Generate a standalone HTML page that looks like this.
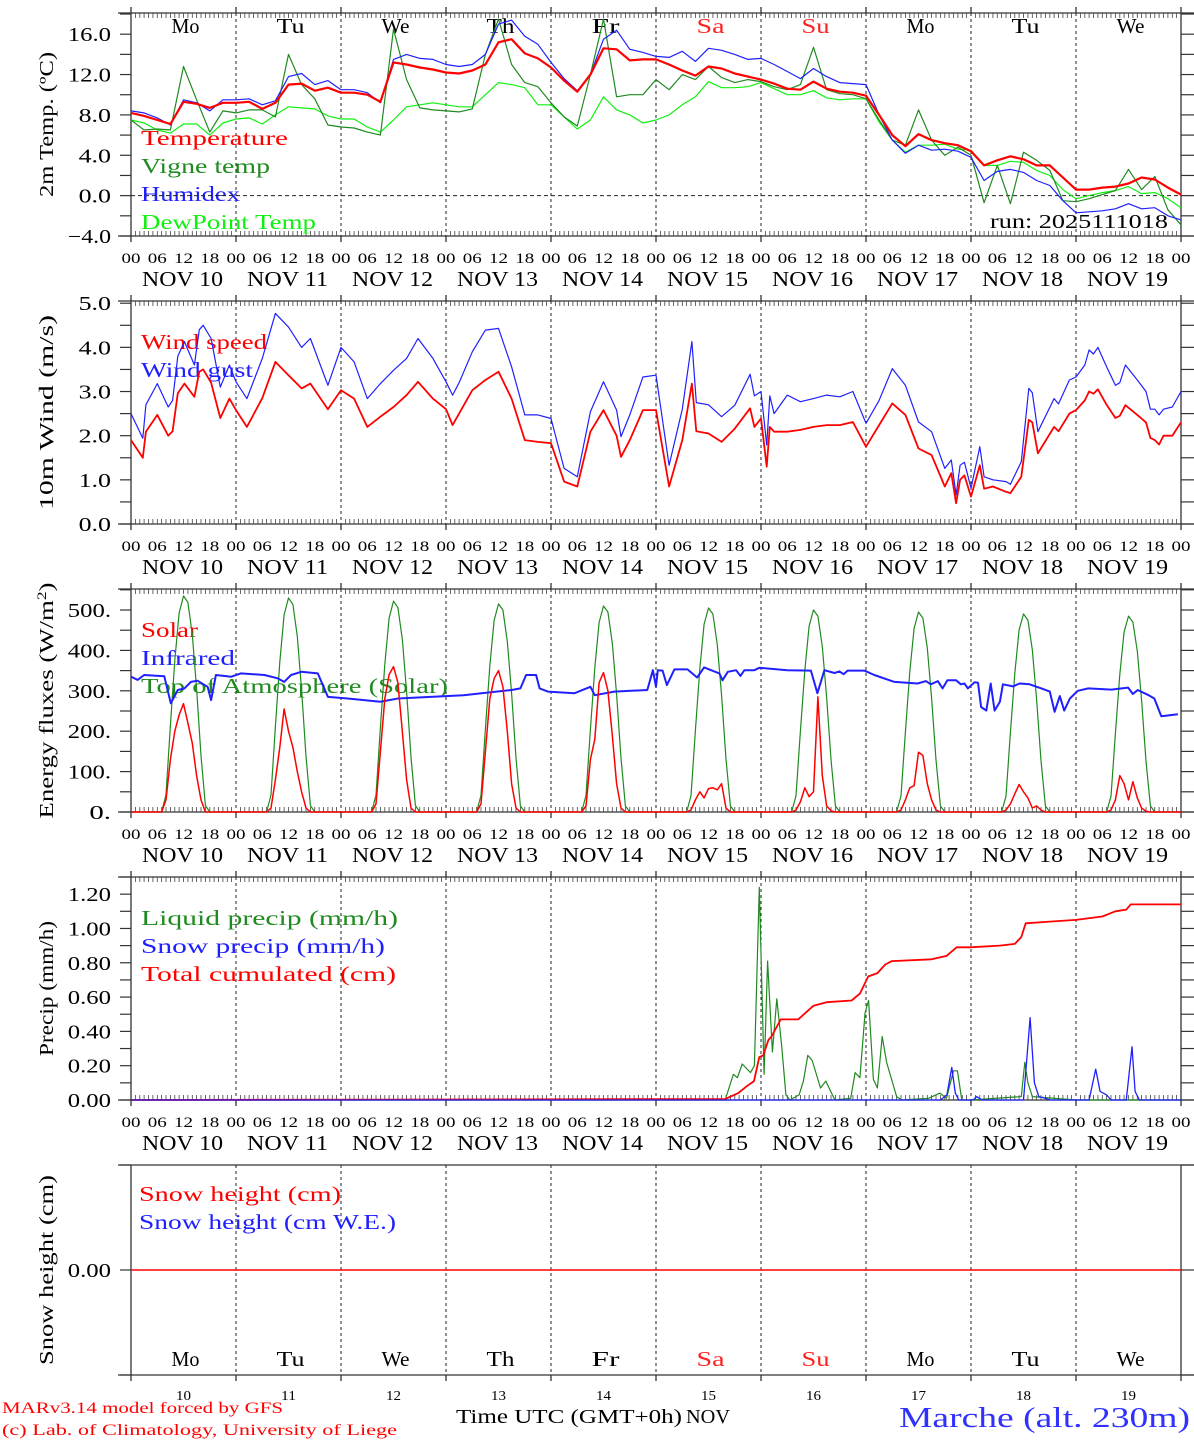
<!DOCTYPE html>
<html><head><meta charset="utf-8">
<style>
html,body{margin:0;padding:0;background:#fff;}
svg{display:block;font-family:"Liberation Serif",serif;}
</style></head>
<body>
<svg id="chart" width="1194" height="1440" viewBox="0 0 1194 1440" xmlns="http://www.w3.org/2000/svg">
<text x="2" y="1413" font-size="16" fill="#ff0000" textLength="281" lengthAdjust="spacingAndGlyphs">MARv3.14 model forced by GFS</text>
<text x="2" y="1435" font-size="16" fill="#ff0000" textLength="395" lengthAdjust="spacingAndGlyphs">(c) Lab. of Climatology, University of Liege</text>
<text x="456" y="1423" font-size="20" fill="#000" textLength="226" lengthAdjust="spacingAndGlyphs">Time UTC (GMT+0h)</text>
<text x="686" y="1423" font-size="20" fill="#000" textLength="44" lengthAdjust="spacingAndGlyphs">NOV</text>
<text x="899" y="1427" font-size="29" fill="#3030ff" textLength="291" lengthAdjust="spacingAndGlyphs">Marche (alt. 230m)</text>
<text x="990" y="228" font-size="20" fill="#000" textLength="178" lengthAdjust="spacingAndGlyphs">run: 2025111018</text>
</svg>
<script>
// ---------- DATA ----------
const dayNames = ["Mo","Tu","We","Th","Fr","Sa","Su","Mo","Tu","We"];
const dayNums = ["10","11","12","13","14","15","16","17","18","19"];
const weekendFlags = [0,0,0,0,0,1,1,0,0,0];

// temperature, 3-hourly from Nov10 00h
const temperature = [8.2,7.9,7.5,7.1,9.3,9.1,8.7,9.2,
 9.2,9.3,8.6,9.2,11.0,11.1,10.4,10.7,
 10.2,10.2,10.0,9.3,13.2,13.0,12.7,12.5,
 12.2,12.1,12.4,13.0,15.2,15.5,14.1,13.6,
 12.7,11.4,10.3,12.0,14.6,14.5,13.4,13.5,
 13.5,13.0,12.4,11.9,12.8,12.6,12.1,11.8,
 11.5,11.1,10.6,10.5,11.3,10.6,10.3,10.2,
 9.9,8.0,6.0,4.9,6.1,5.5,5.2,5.0,
 4.4,3.0,3.5,3.9,3.6,3.0,3.0,1.8,
 0.6,0.6,0.8,0.9,1.2,1.8,1.6,0.8,0.1];
const humidex = [8.4,8.2,7.7,7.0,9.5,9.2,8.4,9.5,
 9.5,9.6,9.0,9.4,11.8,12.1,11.0,11.4,
 10.5,10.5,10.2,9.2,13.5,14.0,13.6,13.5,
 13.0,12.8,13.0,14.0,17.0,17.4,15.8,15.0,
 13.2,11.6,10.4,12.0,15.5,16.4,14.5,14.2,
 13.8,13.7,14.3,13.3,14.6,14.4,14.0,13.5,
 13.6,13.0,12.3,11.6,12.6,11.8,11.2,11.1,
 11.0,8.0,5.5,4.2,5.0,4.5,4.6,4.4,
 3.8,1.5,2.4,2.6,2.3,1.5,1.0,-0.5,
 -1.7,-1.6,-1.5,-1.3,-0.8,-1.3,-1.2,-2.0,-2.4];
const vigneTemp = [7.5,6.5,6.6,6.5,12.8,9.5,6.3,8.4,
 8.2,8.5,8.5,7.8,14.0,11.0,9.6,7.0,
 6.8,6.7,6.3,6.0,16.5,11.5,8.7,8.5,
 8.4,8.3,8.6,14.0,17.5,13.0,11.2,10.8,
 9.2,7.8,6.9,12.0,17.5,9.8,10.0,10.0,
 11.5,10.5,12.0,11.5,12.8,11.7,11.2,11.5,
 11.3,10.8,10.5,11.0,14.7,10.5,10.1,10.0,
 9.6,7.5,5.5,5.0,8.5,5.5,4.0,4.8,
 4.0,-0.7,3.0,-0.8,4.3,3.5,2.5,-0.5,
 -0.6,-0.3,0.1,0.5,2.6,0.6,1.9,-1.4,-2.9];
const dewPoint = [7.5,7.2,6.5,6.2,7.1,7.1,6.0,7.2,
 7.6,7.7,7.1,8.0,8.8,8.7,8.6,7.9,
 7.6,7.6,6.8,6.3,7.5,8.8,9.0,9.2,
 9.0,8.8,8.8,10.0,11.2,11.0,10.7,9.0,
 9.0,7.8,6.6,7.5,9.8,8.5,8.0,7.2,
 7.5,8.0,9.0,9.8,11.3,10.7,10.7,10.8,
 11.2,10.6,10.0,10.0,10.4,9.7,9.5,9.6,
 9.6,7.3,5.5,4.3,5.0,5.0,5.1,4.6,
 4.5,3.0,3.0,3.4,3.3,2.5,2.0,0.6,
 -0.3,0.0,0.3,0.5,0.9,0.2,0.3,-0.3,-1.2];

// wind (hours since Nov10 00h)
const windHours = [0,2.7,3.4,6,8.5,9.5,10.7,12.2,14.5,15.6,16.5,18.3,20.4,22.5,
 24,26.5,30,33,36,39,41,45,
 48,51,54,57,60,63,65.6,69,
 72,73.5,75,78,81,84,87,90,93,
 96,99,102,105,108,111,112,114,117,
 120,123,126,128.2,129.2,132,135,138,141.5,142.5,
 144,145.3,146,147,150,153,156,159,162,165,
 168,171,174,177,180,183,186,187.5,188.6,189.5,190.5,
 192,194,195,197,200,201,203.5,205.2,206,207.3,211,212,214.5,
 216,218,219,220,221,223,225,226,227.3,230,232,233,234,235,236,238,240];
const windSpeed = [1.9,1.5,2.09,2.47,2.0,2.1,2.96,3.18,2.88,3.45,3.5,3.2,2.4,2.84,
 2.58,2.2,2.85,3.67,3.37,3.07,3.18,2.6,
 3.03,2.84,2.2,2.43,2.65,2.92,3.22,2.84,
 2.6,2.24,2.5,3.03,3.26,3.45,2.84,1.9,1.86,
 1.83,0.96,0.85,2.09,2.58,2.0,1.52,1.9,2.58,
 2.58,0.85,1.9,3.18,2.1,2.05,1.86,2.16,2.62,2.2,
 2.39,1.3,2.2,2.09,2.09,2.13,2.2,2.24,2.24,2.31,
 1.75,2.24,2.73,2.47,1.71,1.56,0.85,1.15,0.47,1.0,1.1,
 0.62,1.33,0.8,0.85,0.73,0.7,1.07,2.36,2.3,1.6,2.2,2.1,2.5,
 2.58,2.8,3.0,2.95,3.05,2.7,2.4,2.45,2.69,2.47,2.3,1.95,1.9,1.8,2.0,2.0,2.3];
const windGust = [2.5,1.94,2.7,3.18,2.65,2.8,3.8,4.13,3.6,4.4,4.5,4.2,3.1,3.6,
 3.22,2.84,3.75,4.77,4.46,4.0,4.2,3.14,
 4.0,3.67,2.84,3.18,3.48,3.75,4.2,3.75,
 3.22,2.92,3.2,3.9,4.39,4.43,3.56,2.47,2.47,
 2.39,1.26,1.07,2.54,3.22,2.58,1.98,2.47,3.33,
 3.37,1.33,2.6,4.13,2.75,2.7,2.43,2.69,3.39,2.9,
 3.0,1.79,2.9,2.5,2.92,2.77,2.84,2.92,2.88,3.0,
 2.28,2.8,3.52,3.14,2.31,2.09,1.26,1.45,0.66,1.33,1.4,
 0.81,1.75,1.07,1.0,0.96,0.9,1.41,3.07,2.97,2.09,2.84,2.72,3.26,
 3.33,3.6,3.94,3.85,4.0,3.56,3.14,3.2,3.6,3.26,3.0,2.6,2.6,2.47,2.6,2.65,3.0];

// energy fluxes: hours of day used for daytime curves
const dayHours = [7,8,9,10,11,12,13,14,15,16,17,18];
const solarByDay = [
 [0,30,130,200,240,268,220,170,90,30,0,0],
 [0,10,80,160,255,200,160,100,50,10,0,0],
 [0,20,150,280,340,360,320,200,80,10,0,0],
 [0,20,150,280,330,350,310,200,70,10,0,0],
 [0,15,130,180,320,345,300,190,70,10,0,0],
 [0,5,30,50,35,58,60,55,70,10,0,0],
 [0,5,25,60,38,50,285,90,15,3,0,0],
 [0,5,30,60,65,148,140,70,30,5,0,0],
 [0,5,20,45,68,50,35,10,15,5,0,0],
 [0,5,30,90,70,30,75,35,10,2,0,0]];
const toaByDay = [
 [0,43,214,375,492,535,519,439,305,139,16,0],
 [0,42,212,371,488,530,514,435,302,138,16,0],
 [0,42,209,365,480,522,506,428,298,136,16,0],
 [0,41,206,361,474,515,500,422,294,134,15,0],
 [0,41,204,357,469,510,495,418,291,133,15,0],
 [0,40,202,354,465,505,490,414,288,131,15,0],
 [0,40,200,350,460,500,485,410,285,130,15,0],
 [0,40,198,347,455,495,480,406,282,129,15,0],
 [0,39,196,343,451,490,475,402,279,127,15,0],
 [0,39,194,340,446,485,470,398,276,126,15,0]];
const irHours = [0,1.5,3,7.6,9.1,10.7,12.2,13.7,15.2,17.5,18.3,19.4,22.9,25.1,30.5,33.5,35,36.6,38.9,42.7,45,49.5,57,61,76,87,89,90.3,92.6,93.4,95.3,101.4,105,106,110.5,118,119.3,
 120,120.4,121.5,122.5,124.2,127.2,129.4,131,134.5,135.2,136.4,138.3,139.3,140.2,142.5,143.6,150,155.4,156.9,158.5,160.8,161.9,162.9,163.8,167.6,169.9,174.5,179.8,181.7,182.8,184.4,185.5,186.6,188.6,189.7,190.5,191.3,192.8,193.6,194.3,195.5,196.5,197.4,198.6,199.3,201.6,203.1,205.4,208.1,210,211.1,212.3,213.3,214.6,216.4,218.8,224.1,227.9,229,230.1,232.4,233.9,235.5,239.3];
const irValues = [335,327,339,336,269,302,306,322,325,310,277,339,335,343,339,331,322,339,347,343,285,281,273,281,289,302,306,339,339,306,298,294,310,289,298,302,351,
 310,351,350,314,353,353,333,358,343,326,347,351,337,351,351,357,351,350,294,351,344,348,341,350,350,339,322,318,324,316,324,306,326,326,316,318,306,321,320,260,251,318,251,273,316,311,318,316,306,298,248,287,251,281,300,306,303,308,292,302,290,281,237,242];

// precipitation
const liquidHours = [0,135.8,137.7,138.6,139.7,141.6,142.5,143.6,144.7,145.5,146.6,147.6,148.7,149.7,150.6,152.7,153.7,154.7,155.7,157.6,158.8,160.9,164.5,165.5,166.6,167.8,168.6,169.7,170.6,171.7,172.7,175.0,176.2,182.3,184.9,186.4,188.0,188.9,189.9,192,203.5,204.3,205,206,216,240];
const liquidVals = [0,0,0.15,0.13,0.21,0.16,0.2,1.24,0.15,0.81,0.28,0.59,0.32,0.03,0,0.03,0.11,0.26,0.23,0.07,0.11,0,0.01,0.16,0.13,0.51,0.58,0.12,0.07,0.37,0.22,0.02,0,0.01,0.04,0.01,0.17,0.17,0,0,0.02,0.22,0.1,0.02,0,0];
const snowHours = [0,185,186.5,187.6,188.4,189.2,192.5,193.3,194.5,204,205.5,206.5,207.5,209,210,219,220.5,221.5,223,224,227.5,228.8,229.5,230.5,240];
const snowVals = [0,0,0.03,0.19,0.04,0,0,0.02,0,0,0.48,0.1,0.02,0.01,0,0,0.18,0.05,0.03,0,0,0.31,0.05,0,0];
const cumulHours = [0,130,135.8,138.8,140.7,142.4,143.6,144.5,145.7,146.4,148.5,152.5,156,159,164.7,166.6,168.5,170.6,172.4,173.9,183,186.4,188.7,191.8,198.6,202,203.5,204.5,210,216,222,225,227.5,228.5,240];
const cumulVals = [0,0.005,0.005,0.04,0.08,0.11,0.25,0.26,0.35,0.37,0.47,0.47,0.55,0.57,0.58,0.62,0.72,0.74,0.79,0.81,0.82,0.84,0.89,0.89,0.9,0.91,0.95,1.03,1.04,1.05,1.07,1.1,1.11,1.14,1.14];

// snow height
const snowHeightHours = [0,240];
const snowHeightVals = [0,0];

// ---------- DRAWING ----------
const NS = "http://www.w3.org/2000/svg";
const svg = document.getElementById("chart");
const X0 = 131, X1 = 1181;
const xOf = h => X0 + h * (X1 - X0) / 240;

function mk(tag, attrs, parent) {
  const e = document.createElementNS(NS, tag);
  for (const k in attrs) e.setAttribute(k, attrs[k]);
  (parent || svg).appendChild(e);
  return e;
}
function seq(step, n) { const a = []; for (let i = 0; i < n; i++) a.push(i * step); return a; }
function fit(t, w) { t.setAttribute("textLength", w); t.setAttribute("lengthAdjust", "spacingAndGlyphs"); }

function drawLine(g, hours, vals, yOf, color, w, name) {
  const d = hours.map((h, i) => (i ? "L" : "M") + xOf(h).toFixed(1) + " " + yOf(vals[i]).toFixed(1)).join(" ");
  const p = mk("path", {d: d, fill: "none", stroke: color, "stroke-width": w, "stroke-linejoin": "round"}, g);
  
  
  return p;
}

function panel(cfg) {
  const g = mk("g", {});
  
  
  const yOf = v => cfg.bottom - (v - cfg.vmin) * (cfg.bottom - cfg.top) / (cfg.vmax - cfg.vmin);
  mk("line", {x1: 118, x2: 1194, y1: cfg.top, y2: cfg.top, stroke: "#333", "stroke-width": 1.3}, g);
  mk("line", {x1: 118, x2: 1194, y1: cfg.bottom, y2: cfg.bottom, stroke: "#333", "stroke-width": 1.3}, g);
  mk("line", {x1: X0, x2: X0, y1: cfg.top - (cfg.minor ? 6 : 0), y2: cfg.bottom + 6, stroke: "#333", "stroke-width": 1.3}, g);
  mk("line", {x1: X1, x2: X1, y1: cfg.top - (cfg.minor ? 6 : 0), y2: cfg.bottom + 6, stroke: "#333", "stroke-width": 1.3}, g);
  for (let d = 1; d < 10; d++) {
    const x = xOf(d * 24);
    mk("line", {x1: x, x2: x, y1: cfg.top, y2: cfg.bottom, stroke: "#222", "stroke-width": 1, "stroke-dasharray": "3,3"}, g);
    mk("line", {x1: x, x2: x, y1: cfg.bottom, y2: cfg.bottom + 6, stroke: "#333", "stroke-width": 1.3}, g);
    if (cfg.minor) mk("line", {x1: x, x2: x, y1: cfg.top - 6, y2: cfg.top, stroke: "#333", "stroke-width": 1.3}, g);
  }
  if (cfg.minor) {
    let d = "";
    for (let h = 1; h < 240; h++) {
      if (h % 24 === 0) continue;
      const x = xOf(h).toFixed(1);
      d += "M" + x + " " + cfg.bottom + "v-5M" + x + " " + cfg.top + "v5";
    }
    mk("path", {d: d, stroke: "#444", "stroke-width": 0.8, fill: "none"}, g);
  }
  const nT = Math.round((cfg.vmax - cfg.vmin) / cfg.tick);
  for (let i = 0; i <= nT; i++) {
    const v = cfg.vmin + i * cfg.tick;
    const y = yOf(v);
    if (y < cfg.top - 0.5) continue;
    mk("line", {x1: 120, x2: X0, y1: y, y2: y, stroke: "#333", "stroke-width": 1.2}, g);
    mk("line", {x1: X1, x2: 1194, y1: y, y2: y, stroke: "#333", "stroke-width": 1.2}, g);
  }
  cfg.labels.forEach(v => {
    const t = mk("text", {x: 111, y: yOf(v) + 7, "font-size": 20, "text-anchor": "end", fill: "#000"}, g);
    t.textContent = cfg.fmt(v);
    fit(t, t.textContent.length * 10.8);
    
    
  });
  const cy = (cfg.top + cfg.bottom) / 2;
  const yt = mk("text", {x: 53, y: cy, "font-size": 20, "text-anchor": "middle", transform: "rotate(-90 53 " + cy + ")", fill: "#000"}, g);
  yt.innerHTML = cfg.title;
  fit(yt, cfg.titleW);
  
  
  if (cfg.minor) {
    for (let h = 0; h <= 240; h += 6) {
      const t = mk("text", {x: xOf(h), y: cfg.bottom + 27, "font-size": 15, "text-anchor": "middle", fill: "#000"}, g);
      t.textContent = ["00","06","12","18"][(h / 6) % 4];
      fit(t, 19);
      
      
    }
    dayNums.forEach((n, i) => {
      const t = mk("text", {x: xOf(i * 24 + 12) - 1, y: cfg.bottom + 50, "font-size": 21, "text-anchor": "middle", fill: "#000", "xml:space": "preserve"}, g);
      t.textContent = "NOV " + n;
      fit(t, 81);
      
      
    });
  }
  cfg.legend.forEach((l, i) => {
    const t = mk("text", {x: cfg.legendX || 141, y: cfg.legendY + i * 28, "font-size": 21, fill: l[1]}, g);
    t.textContent = l[0];
    fit(t, l[2]);
    
    
  });
  return {g: g, yOf: yOf};
}

const C_RED = "#ff0000", C_DG = "#208a20", C_BLUE = "#2020ff", C_LG = "#10f010";

function weekdays(g, y) {
  dayNames.forEach((n, i) => {
    const t = mk("text", {x: xOf(i * 24 + 12) + 2, y: y, "font-size": 21, "text-anchor": "middle", fill: weekendFlags[i] ? "#ff2020" : "#000"}, g);
    t.textContent = n;
    fit(t, 28);
    
    
  });
}

// Panel 1: temperature
const p1 = panel({name: "temperature-panel", top: 13, bottom: 236, vmin: -4, vmax: 18.1, tick: 2, minor: true,
  labels: [-4,0,4,8,12,16], fmt: v => (v < 0 ? "\u2212" + Math.abs(v).toFixed(1) : v.toFixed(1)),
  title: "2m Temp. (\u00baC)", titleW: 145, legendY: 145,
  legend: [["Temperature", C_RED, 147], ["Vigne temp", C_DG, 129], ["Humidex", C_BLUE, 99], ["DewPoint Temp", C_LG, 175]]});
mk("line", {x1: X0, x2: X1, y1: p1.yOf(0), y2: p1.yOf(0), stroke: "#222", "stroke-dasharray": "4,3", "stroke-width": 1}, p1.g);
weekdays(p1.g, 33);
const tHours = seq(3, 81);
drawLine(p1.g, tHours, dewPoint, p1.yOf, C_LG, 1.2, "dewpoint-line");
drawLine(p1.g, tHours, vigneTemp, p1.yOf, C_DG, 1.2, "vigne-temp-line");
drawLine(p1.g, tHours, humidex, p1.yOf, C_BLUE, 1.2, "humidex-line");
drawLine(p1.g, tHours, temperature, p1.yOf, C_RED, 2.2, "temperature-line");

// Panel 2: wind
const p2 = panel({name: "wind-panel", top: 301, bottom: 524, vmin: 0, vmax: 5.05, tick: 0.5, minor: true,
  labels: [0,1,2,3,4,5], fmt: v => v.toFixed(1), title: "10m Wind (m/s)", titleW: 195, legendY: 349,
  legend: [["Wind speed", C_RED, 126], ["Wind gust", C_BLUE, 112]]});
drawLine(p2.g, windHours, windGust, p2.yOf, C_BLUE, 1.2, "wind-gust-line");
drawLine(p2.g, windHours, windSpeed, p2.yOf, C_RED, 1.8, "wind-speed-line");

// Panel 3: energy
const p3 = panel({name: "energy-panel", top: 589, bottom: 812, vmin: 0, vmax: 552, tick: 50, minor: true,
  labels: [0,100,200,300,400,500], fmt: v => v + ".", title: "Energy fluxes (W/m<tspan font-size='13' dy='-7'>2</tspan><tspan dy='7'>)</tspan>", titleW: 236, legendY: 637,
  legend: [["Solar", C_RED, 57], ["Infrared", C_BLUE, 94], ["Top of Atmosphere (Solar)", C_DG, 307]]});
function dailySeries(byDay) {
  const hs = [0], vs = [0];
  byDay.forEach((arr, d) => dayHours.forEach((h, i) => { hs.push(d * 24 + h); vs.push(arr[i]); }));
  hs.push(240); vs.push(0);
  return [hs, vs];
}
const toaS = dailySeries(toaByDay), solS = dailySeries(solarByDay);
drawLine(p3.g, toaS[0], toaS[1], p3.yOf, C_DG, 1.2, "toa-solar-line");
drawLine(p3.g, irHours, irValues, p3.yOf, C_BLUE, 2, "infrared-line");
drawLine(p3.g, solS[0], solS[1], p3.yOf, C_RED, 1.5, "solar-line");

// Panel 4: precipitation
const p4 = panel({name: "precip-panel", top: 877, bottom: 1100, vmin: 0, vmax: 1.3, tick: 0.1, minor: true,
  labels: [0,0.2,0.4,0.6,0.8,1.0,1.2], fmt: v => v.toFixed(2), title: "Precip (mm/h)", titleW: 135, legendY: 925,
  legend: [["Liquid precip (mm/h)", C_DG, 257], ["Snow precip (mm/h)", C_BLUE, 244], ["Total cumulated (cm)", C_RED, 255]]});
drawLine(p4.g, liquidHours, liquidVals, p4.yOf, C_DG, 1.2, "liquid-precip-line");
drawLine(p4.g, cumulHours, cumulVals, p4.yOf, C_RED, 1.8, "cumulated-precip-line");
drawLine(p4.g, snowHours, snowVals, p4.yOf, C_BLUE, 1.3, "snow-precip-line");

// Panel 5: snow height
const p5 = panel({name: "snow-panel", top: 1165, bottom: 1375, vmin: -1, vmax: 1, tick: 1, minor: false,
  labels: [0], fmt: v => v.toFixed(2), title: "Snow height (cm)", titleW: 190, legendY: 1201, legendX: 139,
  legend: [["Snow height (cm)", C_RED, 202], ["Snow height (cm W.E.)", C_BLUE, 257]]});
drawLine(p5.g, snowHeightHours, snowHeightVals, p5.yOf, C_RED, 1.5, "snow-height-line");
weekdays(p5.g, 1366);
dayNums.forEach((n, i) => {
  const u = mk("text", {x: xOf(i * 24 + 12), y: 1400, "font-size": 14, "text-anchor": "middle", fill: "#000"}, p5.g);
  u.textContent = n;
  fit(u, 15);
  
  
});
</script>
</body></html>
